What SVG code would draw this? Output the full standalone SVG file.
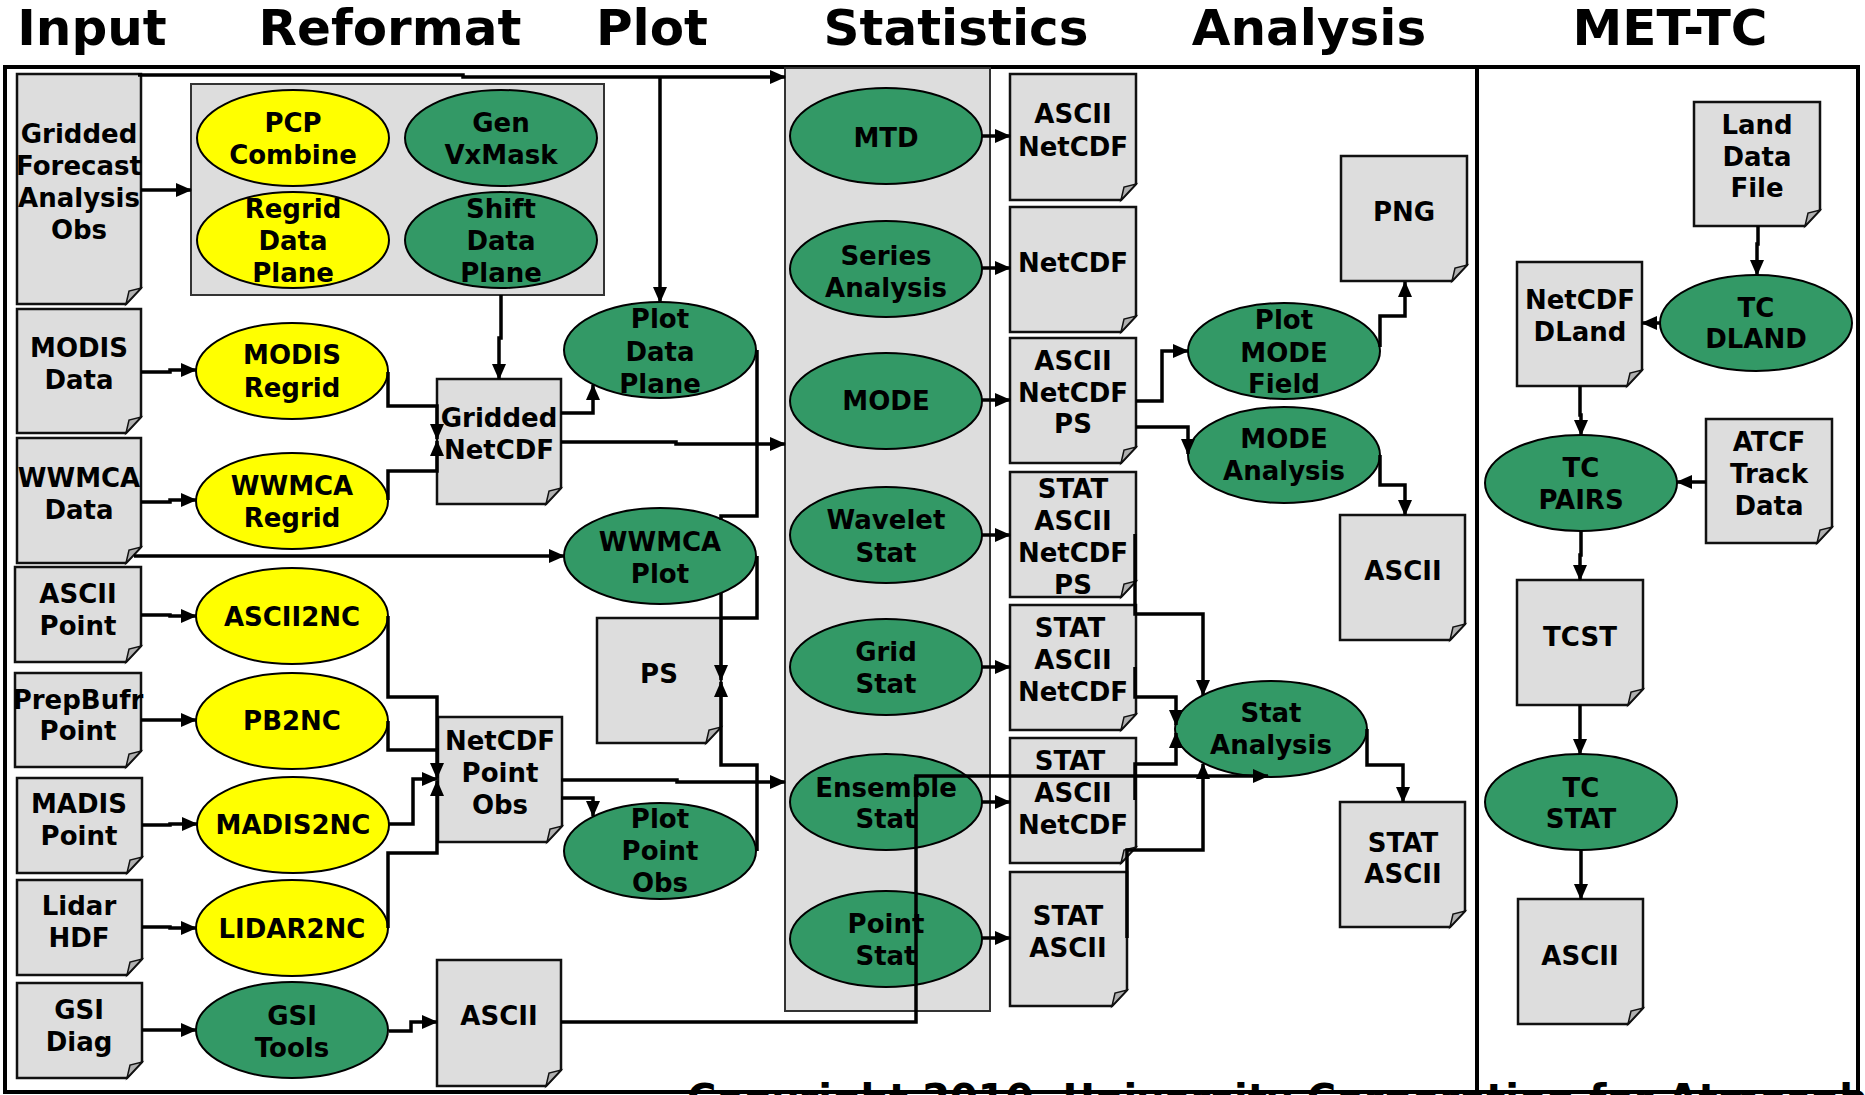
<svg xmlns="http://www.w3.org/2000/svg" width="1865" height="1095" viewBox="0 0 1865 1095">
<defs>
<style>
text{font-family:"DejaVu Sans",Verdana,sans-serif;font-weight:bold;font-size:26px;text-anchor:middle;fill:#000}
.hdr{font-size:50px}
.copy{font-size:40px;text-anchor:start}
.body{fill:#dddddd;stroke:#111;stroke-width:2.5}
.fold{fill:#b0b0b0;stroke:#111;stroke-width:1.5}
.grp{fill:#dddddd;stroke:#333;stroke-width:2}
.y{fill:#ffff00;stroke:#000;stroke-width:2}
.g{fill:#339966;stroke:#000;stroke-width:2}
.conn path{fill:none;stroke:#000;stroke-width:3.5}
.conn path.a{marker-end:url(#ah)}
.frame{fill:none;stroke:#000;stroke-width:4}
</style>
<marker id="ah" markerUnits="userSpaceOnUse" markerWidth="16" markerHeight="14" refX="15" refY="7" orient="auto"><path d="M0,0 L16,7 L0,14 Z" fill="#000"/></marker>
</defs>
<rect width="1865" height="1095" fill="#fff"/>
<text class="copy" x="687" y="1113">Copyright 2010, University Corporation for Atmospheric Research</text>
<g id="headers">
<text class="hdr" x="92" y="45">Input</text>
<text class="hdr" x="390" y="45">Reformat</text>
<text class="hdr" x="652" y="45">Plot</text>
<text class="hdr" x="956" y="45">Statistics</text>
<text class="hdr" x="1309" y="45">Analysis</text>
<text class="hdr" x="1670" y="45">MET-TC</text>
</g>
<g id="frame">
<rect class="frame" x="5" y="67" width="1853" height="1025"/>
<line class="frame" x1="1477" y1="67" x2="1477" y2="1092"/>
</g>
<g id="reformat-box"><rect class="grp" x="191" y="84" width="413" height="211"/></g>
<g id="statistics-box"><rect class="grp" x="785" y="68" width="205" height="943"/></g>

<!-- Input docs -->
<g id="in-gridded"><path class="body" d="M17 74H141V288L126 304H17Z"/><path class="fold" d="M141 288L126 304L129 291Z"/>
<text x="79" y="143">Gridded</text><text x="79" y="175">Forecast</text><text x="79" y="207">Analysis</text><text x="79" y="239">Obs</text></g>
<g id="in-modis"><path class="body" d="M17 309H141V417L126 433H17Z"/><path class="fold" d="M141 417L126 433L129 420Z"/>
<text x="79" y="357">MODIS</text><text x="79" y="389">Data</text></g>
<g id="in-wwmca"><path class="body" d="M17 438H141V547L126 563H17Z"/><path class="fold" d="M141 547L126 563L129 550Z"/>
<text x="79" y="487">WWMCA</text><text x="79" y="519">Data</text></g>
<g id="in-ascii"><path class="body" d="M15 567H141V646L126 662H15Z"/><path class="fold" d="M141 646L126 662L129 649Z"/>
<text x="78" y="603">ASCII</text><text x="78" y="635">Point</text></g>
<g id="in-prepbufr"><path class="body" d="M15 673H141V751L126 767H15Z"/><path class="fold" d="M141 751L126 767L129 754Z"/>
<text x="78" y="709">PrepBufr</text><text x="78" y="740">Point</text></g>
<g id="in-madis"><path class="body" d="M17 778H142V857L127 873H17Z"/><path class="fold" d="M142 857L127 873L130 860Z"/>
<text x="79" y="813">MADIS</text><text x="79" y="845">Point</text></g>
<g id="in-lidar"><path class="body" d="M17 880H142V959L127 975H17Z"/><path class="fold" d="M142 959L127 975L130 962Z"/>
<text x="79" y="915">Lidar</text><text x="79" y="947">HDF</text></g>
<g id="in-gsi"><path class="body" d="M17 983H142V1062L127 1078H17Z"/><path class="fold" d="M142 1062L127 1078L130 1065Z"/>
<text x="79" y="1019">GSI</text><text x="79" y="1051">Diag</text></g>

<!-- Reformat tools -->
<g id="pcp-combine"><ellipse class="y" cx="293" cy="138" rx="96" ry="48"/><text x="293" y="132">PCP</text><text x="293" y="164">Combine</text></g>
<g id="gen-vxmask"><ellipse class="g" cx="501" cy="138" rx="96" ry="48"/><text x="501" y="132">Gen</text><text x="501" y="164">VxMask</text></g>
<g id="regrid-data-plane"><ellipse class="y" cx="293" cy="240" rx="96" ry="48"/><text x="293" y="218">Regrid</text><text x="293" y="250">Data</text><text x="293" y="282">Plane</text></g>
<g id="shift-data-plane"><ellipse class="g" cx="501" cy="240" rx="96" ry="48"/><text x="501" y="218">Shift</text><text x="501" y="250">Data</text><text x="501" y="282">Plane</text></g>
<g id="modis-regrid"><ellipse class="y" cx="292" cy="371" rx="96" ry="48"/><text x="292" y="364">MODIS</text><text x="292" y="397">Regrid</text></g>
<g id="wwmca-regrid"><ellipse class="y" cx="292" cy="501" rx="96" ry="48"/><text x="292" y="495">WWMCA</text><text x="292" y="527">Regrid</text></g>
<g id="ascii2nc"><ellipse class="y" cx="292" cy="616" rx="96" ry="48"/><text x="292" y="626">ASCII2NC</text></g>
<g id="pb2nc"><ellipse class="y" cx="292" cy="721" rx="96" ry="48"/><text x="292" y="730">PB2NC</text></g>
<g id="madis2nc"><ellipse class="y" cx="293" cy="825" rx="96" ry="48"/><text x="293" y="834">MADIS2NC</text></g>
<g id="lidar2nc"><ellipse class="y" cx="292" cy="928" rx="96" ry="48"/><text x="292" y="938">LIDAR2NC</text></g>
<g id="gsi-tools"><ellipse class="g" cx="292" cy="1030" rx="96" ry="48"/><text x="292" y="1025">GSI</text><text x="292" y="1057">Tools</text></g>

<!-- Reformat outputs -->
<g id="gridded-netcdf"><path class="body" d="M437 379H561V488L546 504H437Z"/><path class="fold" d="M561 488L546 504L549 491Z"/>
<text x="499" y="427">Gridded</text><text x="499" y="459">NetCDF</text></g>
<g id="netcdf-point-obs"><path class="body" d="M438 717H562V826L547 842H438Z"/><path class="fold" d="M562 826L547 842L550 829Z"/>
<text x="500" y="750">NetCDF</text><text x="500" y="782">Point</text><text x="500" y="814">Obs</text></g>
<g id="reformat-ascii"><path class="body" d="M437 960H561V1070L546 1086H437Z"/><path class="fold" d="M561 1070L546 1086L549 1073Z"/>
<text x="499" y="1025">ASCII</text></g>

<!-- Plot -->
<g id="plot-data-plane"><ellipse class="g" cx="660" cy="350" rx="96" ry="48"/><text x="660" y="328">Plot</text><text x="660" y="361">Data</text><text x="660" y="393">Plane</text></g>
<g id="wwmca-plot"><ellipse class="g" cx="660" cy="556" rx="96" ry="48"/><text x="660" y="551">WWMCA</text><text x="660" y="583">Plot</text></g>
<g id="ps"><path class="body" d="M597 618H721V727L706 743H597Z"/><path class="fold" d="M721 727L706 743L709 730Z"/>
<text x="659" y="683">PS</text></g>
<g id="plot-point-obs"><ellipse class="g" cx="660" cy="851" rx="96" ry="48"/><text x="660" y="828">Plot</text><text x="660" y="860">Point</text><text x="660" y="892">Obs</text></g>

<!-- Statistics -->
<g id="mtd"><ellipse class="g" cx="886" cy="136" rx="96" ry="48"/><text x="886" y="147">MTD</text></g>
<g id="series-analysis"><ellipse class="g" cx="886" cy="269" rx="96" ry="48"/><text x="886" y="265">Series</text><text x="886" y="297">Analysis</text></g>
<g id="mode"><ellipse class="g" cx="886" cy="401" rx="96" ry="48"/><text x="886" y="410">MODE</text></g>
<g id="wavelet-stat"><ellipse class="g" cx="886" cy="535" rx="96" ry="48"/><text x="886" y="529">Wavelet</text><text x="886" y="562">Stat</text></g>
<g id="grid-stat"><ellipse class="g" cx="886" cy="667" rx="96" ry="48"/><text x="886" y="661">Grid</text><text x="886" y="693">Stat</text></g>
<g id="ensemble-stat"><ellipse class="g" cx="886" cy="802" rx="96" ry="48"/><text x="886" y="797">Ensemble</text><text x="886" y="828">Stat</text></g>
<g id="point-stat"><ellipse class="g" cx="886" cy="939" rx="96" ry="48"/><text x="886" y="933">Point</text><text x="886" y="965">Stat</text></g>

<g id="out-mtd"><path class="body" d="M1010 74H1136V184L1121 200H1010Z"/><path class="fold" d="M1136 184L1121 200L1124 187Z"/>
<text x="1073" y="123">ASCII</text><text x="1073" y="156">NetCDF</text></g>
<g id="out-series"><path class="body" d="M1010 207H1136V316L1121 332H1010Z"/><path class="fold" d="M1136 316L1121 332L1124 319Z"/>
<text x="1073" y="272">NetCDF</text></g>
<g id="out-mode"><path class="body" d="M1010 338H1136V447L1121 463H1010Z"/><path class="fold" d="M1136 447L1121 463L1124 450Z"/>
<text x="1073" y="370">ASCII</text><text x="1073" y="402">NetCDF</text><text x="1073" y="433">PS</text></g>
<g id="out-wavelet"><path class="body" d="M1010 472H1136V581L1121 597H1010Z"/><path class="fold" d="M1136 581L1121 597L1124 584Z"/>
<text x="1073" y="498">STAT</text><text x="1073" y="530">ASCII</text><text x="1073" y="562">NetCDF</text><text x="1073" y="594">PS</text></g>
<g id="out-grid"><path class="body" d="M1010 605H1136V714L1121 730H1010Z"/><path class="fold" d="M1136 714L1121 730L1124 717Z"/>
<text x="1070" y="637">STAT</text><text x="1073" y="669">ASCII</text><text x="1073" y="701">NetCDF</text></g>
<g id="out-ensemble"><path class="body" d="M1010 738H1136V847L1121 863H1010Z"/><path class="fold" d="M1136 847L1121 863L1124 850Z"/>
<text x="1070" y="770">STAT</text><text x="1073" y="802">ASCII</text><text x="1073" y="834">NetCDF</text></g>
<g id="out-point"><path class="body" d="M1010 872H1127V990L1112 1006H1010Z"/><path class="fold" d="M1127 990L1112 1006L1115 993Z"/>
<text x="1068" y="925">STAT</text><text x="1068" y="957">ASCII</text></g>

<!-- Analysis -->
<g id="png"><path class="body" d="M1341 156H1467V265L1452 281H1341Z"/><path class="fold" d="M1467 265L1452 281L1455 268Z"/>
<text x="1404" y="221">PNG</text></g>
<g id="plot-mode-field"><ellipse class="g" cx="1284" cy="351" rx="96" ry="48"/><text x="1284" y="329">Plot</text><text x="1284" y="362">MODE</text><text x="1284" y="393">Field</text></g>
<g id="mode-analysis"><ellipse class="g" cx="1284" cy="455" rx="96" ry="48"/><text x="1284" y="448">MODE</text><text x="1284" y="480">Analysis</text></g>
<g id="mode-ascii"><path class="body" d="M1340 515H1465V624L1450 640H1340Z"/><path class="fold" d="M1465 624L1450 640L1453 627Z"/>
<text x="1403" y="580">ASCII</text></g>
<g id="stat-analysis"><ellipse class="g" cx="1271" cy="729" rx="96" ry="48"/><text x="1271" y="722">Stat</text><text x="1271" y="754">Analysis</text></g>
<g id="stat-ascii"><path class="body" d="M1340 802H1465V911L1450 927H1340Z"/><path class="fold" d="M1465 911L1450 927L1453 914Z"/>
<text x="1403" y="852">STAT</text><text x="1403" y="883">ASCII</text></g>

<!-- MET-TC -->
<g id="land-data-file"><path class="body" d="M1694 102H1820V210L1805 226H1694Z"/><path class="fold" d="M1820 210L1805 226L1808 213Z"/>
<text x="1757" y="134">Land</text><text x="1757" y="166">Data</text><text x="1757" y="197">File</text></g>
<g id="tc-dland"><ellipse class="g" cx="1756" cy="323" rx="96" ry="48"/><text x="1756" y="317">TC</text><text x="1756" y="348">DLAND</text></g>
<g id="netcdf-dland"><path class="body" d="M1517 262H1642V370L1627 386H1517Z"/><path class="fold" d="M1642 370L1627 386L1630 373Z"/>
<text x="1580" y="309">NetCDF</text><text x="1580" y="341">DLand</text></g>
<g id="tc-pairs"><ellipse class="g" cx="1581" cy="483" rx="96" ry="48"/><text x="1581" y="477">TC</text><text x="1581" y="509">PAIRS</text></g>
<g id="atcf"><path class="body" d="M1706 419H1832V527L1817 543H1706Z"/><path class="fold" d="M1832 527L1817 543L1820 530Z"/>
<text x="1769" y="451">ATCF</text><text x="1769" y="483">Track</text><text x="1769" y="515">Data</text></g>
<g id="tcst"><path class="body" d="M1517 580H1643V689L1628 705H1517Z"/><path class="fold" d="M1643 689L1628 705L1631 692Z"/>
<text x="1580" y="646">TCST</text></g>
<g id="tc-stat"><ellipse class="g" cx="1581" cy="802" rx="96" ry="48"/><text x="1581" y="797">TC</text><text x="1581" y="828">STAT</text></g>
<g id="tc-ascii"><path class="body" d="M1518 899H1643V1008L1628 1024H1518Z"/><path class="fold" d="M1643 1008L1628 1024L1631 1011Z"/>
<text x="1580" y="965">ASCII</text></g>

<g id="connectors" class="conn">
<path class="a" d="M141 190H191"/>
<path class="a" d="M138 75H463V77H785"/>
<path class="a" d="M660 77V302"/>
<path class="a" d="M501 295V338H499V379"/>
<path class="a" d="M141 372H170V370H196"/>
<path class="a" d="M141 502H170V500H196"/>
<path class="a" d="M388 372V406H437V439"/>
<path class="a" d="M388 500V471H437V441"/>
<path class="a" d="M134 556H564"/>
<path class="a" d="M561 413H593V385"/>
<path class="a" d="M561 442H676V444H785"/>
<path d="M757 350V516H721V520"/>
<path d="M757 556V618H721"/>
<path class="a" d="M721 593V680"/>
<path class="a" d="M757 851V765H721V682"/>
<path class="a" d="M561 780H677V782H785"/>
<path class="a" d="M561 798H593V816"/>
<path d="M388 616V697H437V750"/>
<path class="a" d="M388 721V750H437V778"/>
<path class="a" d="M389 824H413V779H437"/>
<path class="a" d="M388 928V853H437V781"/>
<path class="a" d="M141 615H170V616H196"/>
<path class="a" d="M141 720H196"/>
<path class="a" d="M142 825H170V824H197"/>
<path class="a" d="M142 927H170V928H196"/>
<path class="a" d="M142 1030H196"/>
<path class="a" d="M389 1031H411V1022H437"/>
<path class="a" d="M561 1022H916V776H1268"/>
<path class="a" d="M982 136H1010"/>
<path class="a" d="M982 268H1010"/>
<path class="a" d="M982 400H1010"/>
<path class="a" d="M982 535H1010"/>
<path class="a" d="M982 667H1010"/>
<path class="a" d="M982 802H1010"/>
<path class="a" d="M982 938H1010"/>
<path class="a" d="M1136 401H1162V351H1188"/>
<path class="a" d="M1136 427H1188V454"/>
<path class="a" d="M1380 347V316H1405V282"/>
<path class="a" d="M1380 455V485H1405V515"/>
<path class="a" d="M1135 534V614H1203V695"/>
<path class="a" d="M1135 667V697H1176V725"/>
<path class="a" d="M1135 800V764H1176V733"/>
<path class="a" d="M1127 938V850H1203V764"/>
<path class="a" d="M1367 729V765H1403V802"/>
<path class="a" d="M1758 226V244H1757V275"/>
<path class="a" d="M1660 323H1642"/>
<path class="a" d="M1580 386V415H1581V435"/>
<path class="a" d="M1706 482H1677"/>
<path class="a" d="M1581 531V555H1580V580"/>
<path class="a" d="M1580 705V754"/>
<path class="a" d="M1581 850V899"/>
</g>
</svg>
